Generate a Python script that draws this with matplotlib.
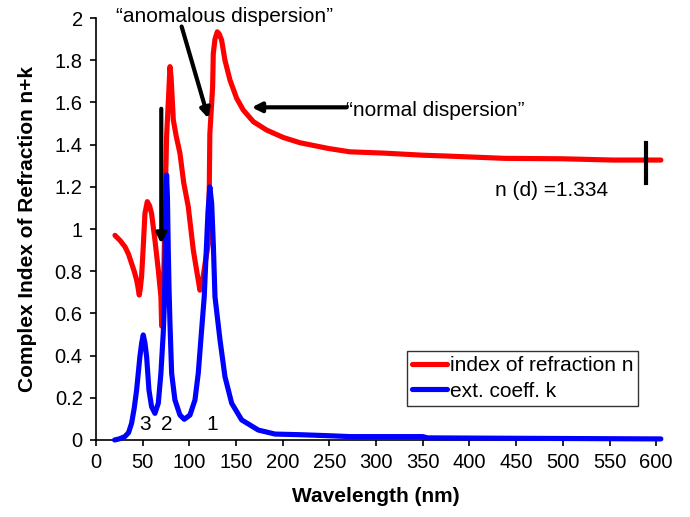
import numpy as np
import matplotlib.pyplot as plt

plt.rcParams['font.family'] = ['Liberation Sans', 'DejaVu Sans']

# refractive index n vs wavelength (nm)
wl_n = [20.4, 26, 31.1, 35, 38.2, 41, 43.6, 45.2, 46.4, 47.6, 48.9, 50.7, 52.5, 55,
        57.5, 59.6, 63.2, 66.8, 69.6, 70.4, 71.5, 73, 74.5, 75.7, 77.5, 79.3, 80.5,
        82.9, 86, 90, 94, 98.9, 104.3, 108, 111.4, 114, 117, 120.4, 121.4, 122,
        125, 125.7, 127.5, 130, 132, 134.6, 138.2, 143.6, 150.7, 157.8, 168.6,
        182.9, 200.7, 218.6, 248.9, 272, 308, 350, 376, 438, 500, 554, 605]
n_vals = [0.97, 0.945, 0.916, 0.88, 0.837, 0.8, 0.758, 0.72, 0.687, 0.72, 0.774,
          0.916, 1.074, 1.13, 1.11, 1.074, 0.948, 0.806, 0.68, 0.54, 0.62, 0.85,
          1.2, 1.44, 1.6, 1.77, 1.72, 1.517, 1.44, 1.359, 1.22, 1.106, 0.9, 0.8,
          0.71, 0.75, 0.84, 0.93, 1.2, 1.45, 1.675, 1.833, 1.9, 1.935, 1.925,
          1.896, 1.80, 1.706, 1.62, 1.564, 1.509, 1.469, 1.434, 1.409, 1.382,
          1.366, 1.36, 1.35, 1.346, 1.335, 1.333, 1.327, 1.327]

# extinction coefficient k vs wavelength (nm)
wl_k = [20, 25, 31, 35, 38.2, 41, 43.6, 47.1, 49, 50.7, 52.5, 54.3, 56.8, 59.6,
        63.2, 66.8, 69.6, 72.1, 73.2, 74, 74.8, 75.7, 76.6, 77.5, 78.3, 79.3, 81.1,
        84.6, 90, 94.6, 100.7, 106.1, 109.6, 113.2, 116, 118, 120, 122, 124, 125.8,
        127.5, 132.9, 138.2, 145.4, 156.1, 173.9, 191.8, 218.6, 250, 272, 300,
        350, 355, 400, 450, 500, 550, 605]
k_vals = [0.0, 0.005, 0.016, 0.035, 0.079, 0.15, 0.237, 0.395, 0.46, 0.498, 0.46,
          0.395, 0.237, 0.158, 0.126, 0.174, 0.316, 0.506, 0.632, 0.8, 1.1, 1.256,
          1.15, 0.9, 0.72, 0.553, 0.316, 0.19, 0.118, 0.098, 0.118, 0.19, 0.316,
          0.521, 0.679, 0.88, 1.08, 1.20, 1.12, 0.92, 0.679, 0.474, 0.30, 0.174,
          0.095, 0.047, 0.028, 0.025, 0.02, 0.016, 0.016, 0.016, 0.01, 0.009,
          0.008, 0.007, 0.006, 0.005]

peak_labels = ['3', '2', '1']
peak_wl = [53, 75.7, 124]

n_d_wl = 589
n_d = 1.334

fig = plt.figure(figsize=(6.9, 5.17), dpi=100)
ax = fig.add_axes([0.139, 0.149, 0.812, 0.816])

ax.plot(wl_n, n_vals, color='#ff0000', lw=3.7, solid_capstyle='round',
        solid_joinstyle='round', label='index of refraction n', clip_on=False, zorder=3)
ax.plot(wl_k, k_vals, color='#0000ff', lw=3.7, solid_capstyle='round',
        solid_joinstyle='round', label='ext. coeff. k', clip_on=False, zorder=4)

ax.set_xlim(0, 600)
ax.set_ylim(0, 2)
ax.set_xticks(np.arange(0, 601, 50))
ax.set_yticks(np.arange(0, 2.01, 0.2))
ax.set_yticklabels(['0', '0.2', '0.4', '0.6', '0.8', '1', '1.2', '1.4', '1.6', '1.8', '2'])
ax.tick_params(labelsize=14.5, direction='out', length=4.5, width=1.2, pad=5)
for s in ['top', 'right']:
    ax.spines[s].set_visible(False)
for s in ['left', 'bottom']:
    ax.spines[s].set_linewidth(1.2)

ax.set_xlabel('Wavelength (nm)', fontsize=15, fontweight='bold', labelpad=11)
ax.set_ylabel('Complex Index of Refraction n+k', fontsize=15, fontweight='bold', labelpad=13)

arrow = dict(arrowstyle='-|>', lw=3, color='black', mutation_scale=14, shrinkA=0, shrinkB=0)
ax.annotate('', xy=(120.5, 1.524), xytext=(91.8, 1.96), arrowprops=arrow, zorder=5)
ax.annotate('', xy=(70, 0.93), xytext=(70, 1.57), arrowprops=arrow, zorder=5)
ax.annotate('', xy=(166.8, 1.577), xytext=(268.6, 1.577), arrowprops=arrow, zorder=5)

ax.text(138, 2.009, '\u201canomalous dispersion\u201d', fontsize=15, ha='center', va='center')
ax.text(268, 1.564, '\u201cnormal dispersion\u201d', fontsize=15, ha='left', va='center')

ax.plot([n_d_wl, n_d_wl], [n_d - 0.117, n_d + 0.076], color='black', lw=3, zorder=5, clip_on=False)
ax.text(427.5, 1.185, 'n (d) =%.3f' % n_d, fontsize=15, ha='left', va='center')

for lab, w in zip(peak_labels, peak_wl):
    ax.text(w, 0.071, lab, fontsize=15, ha='center', va='center')

leg = ax.legend(loc='lower right', bbox_to_anchor=(0.968, 0.081), fontsize=15,
                frameon=True, fancybox=False, handlelength=1.7, handletextpad=0.1,
                borderpad=0.25, labelspacing=0.3, borderaxespad=0)
leg.get_frame().set_edgecolor('black')
leg.get_frame().set_linewidth(1)

fig.savefig('out.png', dpi=100)
